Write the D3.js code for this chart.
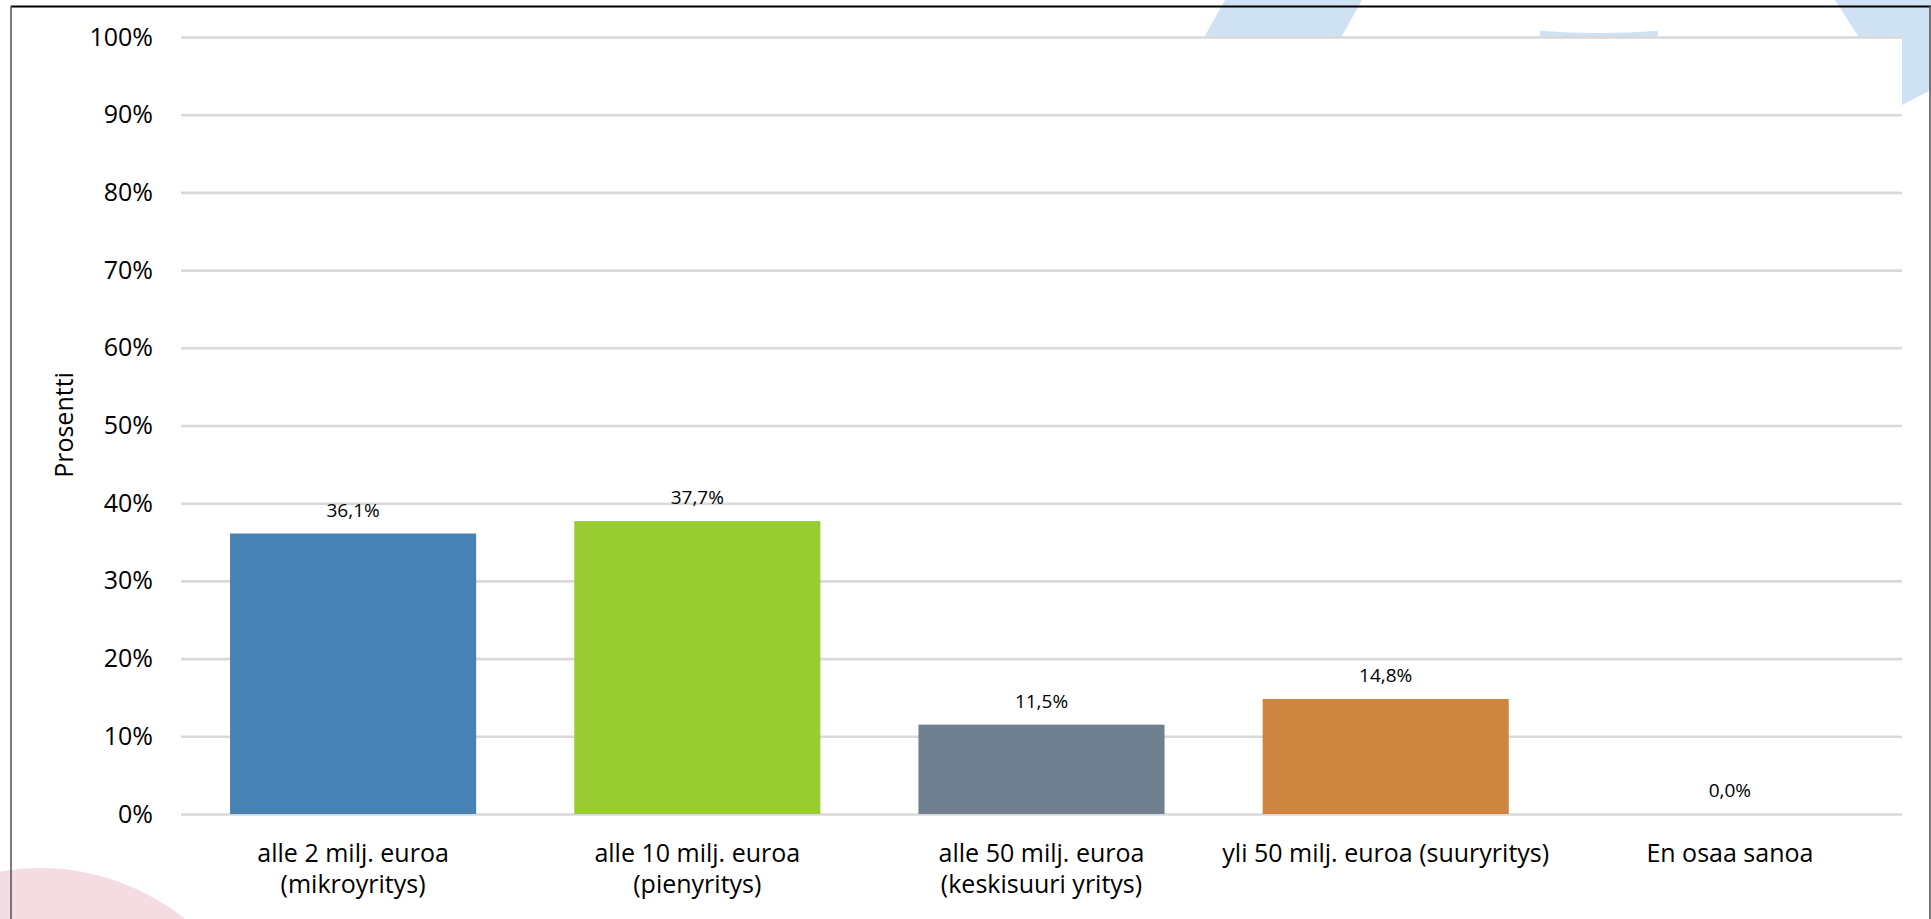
<!DOCTYPE html>
<html>
<head>
<meta charset="utf-8">
<script src="https://cdn.jsdelivr.net/npm/d3@7/dist/d3.min.js"></script>
<style>
  html, body { margin: 0; padding: 0; background: #ffffff; }
  svg { display: block; }
  text { font-family: "Open Sans", "Liberation Sans", sans-serif; fill: #000; }
</style>
</head>
<body>
<svg id="chart" width="1931" height="919"></svg>
<script>
// ---- data ----
const categories = [
  "alle 2 milj. euroa\n(mikroyritys)",
  "alle 10 milj. euroa\n(pienyritys)",
  "alle 50 milj. euroa\n(keskisuuri yritys)",
  "yli 50 milj. euroa (suuryritys)",
  "En osaa sanoa"
];
const values = [0.361, 0.377, 0.115, 0.148, 0.0];
const barColors = ["#4682b4", "#9acd32", "#708090", "#cd853f", "#999999"];
const yTicks = [0, 0.1, 0.2, 0.3, 0.4, 0.5, 0.6, 0.7, 0.8, 0.9, 1.0];
const yTitle = "Prosentti";

// ---- layout ----
const W = 1931, H = 919;
const plot = { left: 181, right: 1902, top: 37, bottom: 814 };

const svg = d3.select("#chart");

// background decorations
svg.append("circle").attr("cx", 40).attr("cy", 1100).attr("r", 232).attr("fill", "#f5dce2");
svg.append("path").attr("d", "M1225,0 L1362,0 L1320,75 L1183,75 Z").attr("fill", "#cfe2f3");
svg.append("path").attr("d", "M1540,30.7 Q1599,35.5 1658,30.7 L1658,60 L1540,60 Z").attr("fill", "#cfe2f3");
svg.append("path").attr("d", "M1835,0 L1931,0 L1931,90 L1902,105 Z").attr("fill", "#cfe2f3");

// plot area background
svg.append("rect")
  .attr("x", plot.left).attr("y", plot.top)
  .attr("width", plot.right - plot.left).attr("height", plot.bottom - plot.top + 2)
  .attr("fill", "#ffffff");

// frame
svg.append("line").attr("x1", 11).attr("x2", 1931).attr("y1", 6.5).attr("y2", 6.5)
  .attr("stroke", "#000").attr("stroke-width", 2);
svg.append("line").attr("x1", 11).attr("x2", 11).attr("y1", 6).attr("y2", H)
  .attr("stroke", "#595959").attr("stroke-width", 1.6);
svg.append("line").attr("x1", 1930).attr("x2", 1930).attr("y1", 6).attr("y2", H)
  .attr("stroke", "#595959").attr("stroke-width", 1.6);

// scales
const x = d3.scaleBand()
  .domain(categories)
  .range([plot.left, plot.right])
  .paddingInner(0.285)
  .paddingOuter(0.1425);

const y = d3.scaleLinear().domain([0, 1]).range([plot.bottom, plot.top]);

// y axis with gridlines
const yAxis = d3.axisLeft(y)
  .tickValues(yTicks)
  .tickFormat(d3.format(".0%"))
  .tickSize(-(plot.right - plot.left))
  .tickPadding(28);

const gy = svg.append("g")
  .attr("transform", `translate(${plot.left},0)`)
  .call(yAxis);
gy.select(".domain").remove();
gy.selectAll(".tick line").attr("stroke", "#d9d9d9").attr("stroke-width", 2.6);
gy.selectAll(".tick text")
  .style("font-family", "'Open Sans', sans-serif")
  .style("font-size", "25px")
  .attr("fill", "#000");

// y title
svg.append("text")
  .attr("transform", "translate(73,425) rotate(-90)")
  .attr("text-anchor", "middle")
  .style("font-size", "25px")
  .text(yTitle);

// bars
svg.append("g").selectAll("rect")
  .data(values)
  .join("rect")
  .attr("x", (d, i) => x(categories[i]))
  .attr("width", x.bandwidth())
  .attr("y", d => y(d))
  .attr("height", d => y(0) - y(d))
  .attr("fill", (d, i) => barColors[i]);

// data labels
const fi = d3.formatLocale({ decimal: ",", thousands: " ", grouping: [3], currency: ["", "€"] });
const pct = fi.format(".1%");
svg.append("g").selectAll("text")
  .data(values)
  .join("text")
  .attr("x", (d, i) => x(categories[i]) + x.bandwidth() / 2)
  .attr("y", d => y(d) - 17)
  .attr("text-anchor", "middle")
  .style("font-size", "19px")
  .text(d => pct(d));

// x axis (category labels)
const xAxis = d3.axisBottom(x).tickSize(0).tickPadding(0);
const gx = svg.append("g")
  .attr("transform", `translate(0,${plot.bottom})`)
  .call(xAxis);
gx.select(".domain").remove();
gx.selectAll(".tick text").each(function(d) {
  const t = d3.select(this);
  t.text(null).attr("dy", null).attr("y", null)
    .style("font-family", "'Open Sans', sans-serif")
    .style("font-size", "25px")
    .attr("fill", "#000");
  d.split("\n").forEach((line, i) => {
    t.append("tspan").attr("x", 0).attr("y", 48 + i * 31).text(line);
  });
});
</script>
</body>
</html>
